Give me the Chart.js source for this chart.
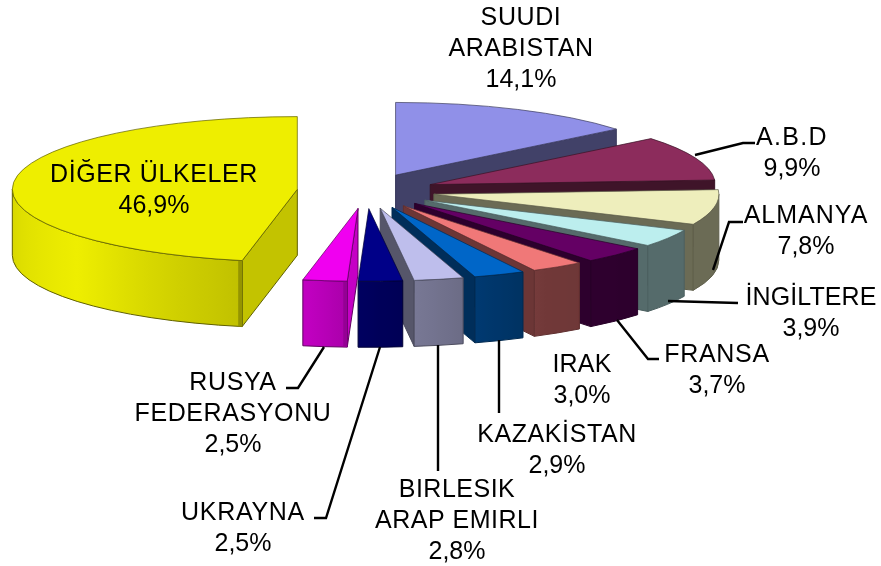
<!DOCTYPE html>
<html>
<head>
<meta charset="utf-8">
<style>
  html, body { margin: 0; background: #fff; }
  canvas { display: block; }
</style>
<script src="https://cdn.jsdelivr.net/npm/chart.js@4"></script>
</head>
<body>
<canvas id="pie" width="881" height="566"></canvas>
<script>
// Data
const categories = [
    ['SUUDI', 'ARABISTAN'], ['A.B.D'], ['ALMANYA'], ['İNGİLTERE'], ['FRANSA'], ['IRAK'],
    ['KAZAKİSTAN'], ['BIRLESIK', 'ARAP EMIRLI'], ['UKRAYNA'], ['RUSYA', 'FEDERASYONU'], ['DİĞER ÜLKELER']
];
const values = [14.1, 9.9, 7.8, 3.9, 3.7, 3.0, 2.9, 2.8, 2.5, 2.5, 46.9];
const topColors = [
    '#9090e8', '#8c2c5c', '#eeeebc', '#bceeee', '#640064', '#f07878',
    '#0066c8', '#bebeec', '#000088', '#f000f0', '#eeee00'
];

// Layout of the pseudo 3D pie
const SQUASH = 0.255;
const DEPTH = 66;
const EXPLODE = 69;
const END_CUT_SHADE = 0.45;
const START_CUT_SHADE = 0.82;
const FONT = '25px "Liberation Sans", Arial, sans-serif';
const LINE_HEIGHT = 31;

// x centre and first baseline of each label
const labelAnchors = [
    [521, 25], [792, 145], [806, 223], [811, 305], [717, 362], [582, 372],
    [557, 442], [457, 497], [243, 520], [233, 390], [154, 182]
];
// letter spacing of the names, the original text is set a bit wider
const nameSpacing = [0.6, 1.3, 1, 0.1, 0.7, 0.2, 0.6, 0.5, 0.7, 0.6, 0.6];
const leaders = [
    null,
    [[695, 155], [743, 143], [755, 143]],
    [[713, 270], [729, 222], [743, 222]],
    [[668, 301], [738, 303]],
    [[617, 320], [648, 359], [659, 359]],
    null,
    [[499, 340], [499, 413]],
    [[438, 345], [438, 471]],
    [[380, 347], [326, 518], [314, 518]],
    [[324, 347], [298, 388], [286, 388]],
    null
];

function shade(hex, f) {
    const n = parseInt(hex.slice(1), 16);
    const r = Math.round((n >> 16 & 255) * f);
    const g = Math.round((n >> 8 & 255) * f);
    const b = Math.round((n & 255) * f);
    return `rgb(${r}, ${g}, ${b})`;
}

// brightness of the outer wall by direction (degrees, canvas angle)
const rimLight = [[0, 0.45], [40, 0.45], [60, 0.47], [75, 0.58], [88, 0.66], [100, 0.8], [140, 1], [180, 0.9]];
function rimShade(deg) {
    for (let i = 1; i < rimLight.length; i++) {
        if (deg <= rimLight[i][0]) {
            const [a, fa] = rimLight[i - 1];
            const [b, fb] = rimLight[i];
            return fa + (fb - fa) * (deg - a) / (b - a);
        }
    }
    return 0.9;
}

function drawQuad(ctx, p, q, fill, edge) {
    ctx.beginPath();
    ctx.moveTo(p[0], p[1]);
    ctx.lineTo(q[0], q[1]);
    ctx.lineTo(q[0], q[1] + DEPTH);
    ctx.lineTo(p[0], p[1] + DEPTH);
    ctx.closePath();
    ctx.fillStyle = fill;
    ctx.fill();
    ctx.strokeStyle = edge;
    ctx.stroke();
}

const pie3d = {
    id: 'pie3d',
    beforeDatasetsDraw(chart) {
        const ctx = chart.ctx;
        chart.getDatasetMeta(0).data.forEach((arc, i) => {
            const { x, y, startAngle, endAngle, outerRadius: r } = arc;
            const mid = (startAngle + endAngle) / 2;
            const dx = EXPLODE * Math.cos(mid);
            const dy = EXPLODE * Math.sin(mid);
            const ax = x + dx;
            const ay = y + dy * SQUASH;
            const rim = a => [ax + r * Math.cos(a), ay + r * SQUASH * Math.sin(a)];
            const color = topColors[i];
            const edge = shade(color, 0.4);

            ctx.save();
            ctx.lineWidth = 1;
            ctx.lineJoin = 'round';

            // cut faces
            if (Math.cos(startAngle) < 0) {
                drawQuad(ctx, [ax, ay], rim(startAngle), shade(color, START_CUT_SHADE), edge);
            }
            if (Math.cos(endAngle) > 0) {
                drawQuad(ctx, [ax, ay], rim(endAngle), shade(color, END_CUT_SHADE), edge);
            }

            // outer wall, only the part that faces the viewer
            const from = Math.max(startAngle, 0);
            const to = Math.min(endAngle, Math.PI);
            if (to > from) {
                const x0 = rim(from)[0];
                const x1 = rim(to)[0];
                const grad = ctx.createLinearGradient(x0, 0, x1, 0);
                for (let s = 0; s <= 12; s++) {
                    const a = from + (to - from) * s / 12;
                    const stop = Math.min(1, Math.max(0, (rim(a)[0] - x0) / (x1 - x0)));
                    grad.addColorStop(stop, shade(color, rimShade(a * 180 / Math.PI)));
                }
                ctx.beginPath();
                ctx.ellipse(ax, ay, r, r * SQUASH, 0, from, to);
                ctx.ellipse(ax, ay + DEPTH, r, r * SQUASH, 0, to, from, true);
                ctx.closePath();
                ctx.fillStyle = grad;
                ctx.fill();
                ctx.strokeStyle = edge;
                ctx.stroke();

                // darker corner where the wall meets the cut face
                if (Math.cos(startAngle) < 0) {
                    const c = rim(from);
                    ctx.beginPath();
                    ctx.moveTo(c[0] - 2, c[1]);
                    ctx.lineTo(c[0] - 2, c[1] + DEPTH);
                    ctx.lineWidth = 4;
                    ctx.strokeStyle = shade(color, 0.62);
                    ctx.stroke();
                    ctx.lineWidth = 1;
                }
            }

            // top face, drawn by the arc element itself
            ctx.save();
            ctx.translate(x, y);
            ctx.scale(1, SQUASH);
            ctx.translate(-x + dx, -y + dy);
            arc.draw(ctx);
            ctx.restore();

            ctx.beginPath();
            ctx.moveTo(ax, ay);
            ctx.ellipse(ax, ay, r, r * SQUASH, 0, startAngle, endAngle);
            ctx.closePath();
            ctx.strokeStyle = edge;
            ctx.globalAlpha = 0.7;
            ctx.stroke();
            ctx.restore();
        });

        // leader lines
        ctx.save();
        ctx.strokeStyle = '#000';
        ctx.lineWidth = 2.4;
        leaders.forEach(path => {
            if (!path) return;
            ctx.beginPath();
            path.forEach((p, n) => n ? ctx.lineTo(p[0], p[1]) : ctx.moveTo(p[0], p[1]));
            ctx.stroke();
        });
        ctx.restore();
        return false; // the arcs are already painted
    },
    afterDraw(chart) {
        const ctx = chart.ctx;
        ctx.save();
        ctx.font = FONT;
        ctx.fillStyle = '#000';
        ctx.textAlign = 'center';
        ctx.textBaseline = 'alphabetic';
        categories.forEach((lines, i) => {
            const [cx, top] = labelAnchors[i];
            ctx.letterSpacing = nameSpacing[i] + 'px';
            lines.forEach((line, n) => ctx.fillText(line, cx, top + n * LINE_HEIGHT));
            ctx.letterSpacing = '0px';
            const pct = values[i].toFixed(1).replace('.', ',') + '%';
            ctx.fillText(pct, cx, top + lines.length * LINE_HEIGHT);
        });
        ctx.restore();
    }
};

new Chart(document.getElementById('pie').getContext('2d'), {
    type: 'pie',
    data: {
        labels: categories.map(c => c.join(' ')),
        datasets: [{
            data: values,
            backgroundColor: topColors,
            borderWidth: 0
        }]
    },
    options: {
        responsive: false,
        animation: false,
        events: [],
        radius: 285,
        layout: { padding: { right: 149, bottom: 184 } },
        plugins: {
            legend: { display: false },
            tooltip: { enabled: false }
        }
    },
    plugins: [pie3d]
});
</script>
</body>
</html>
